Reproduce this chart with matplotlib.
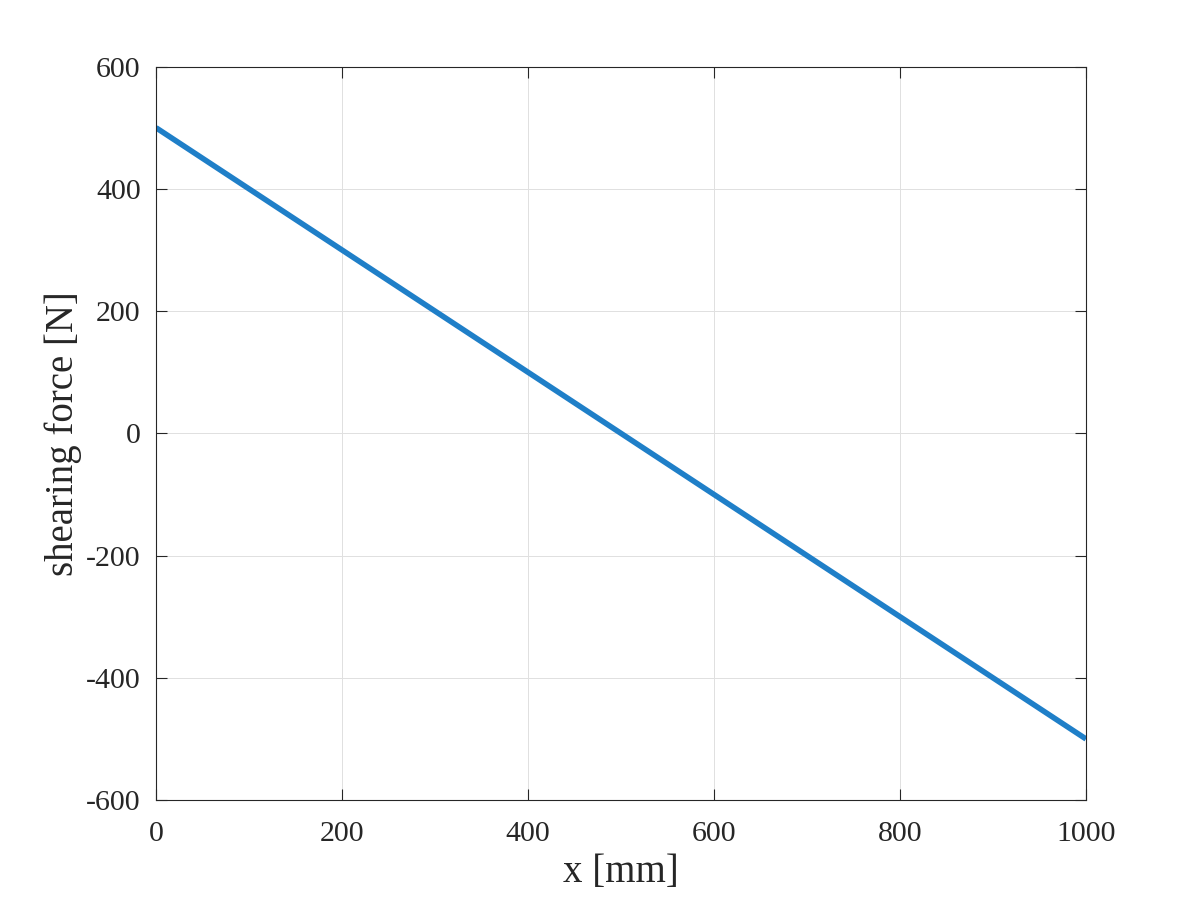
import matplotlib
matplotlib.use("Agg")
import matplotlib.pyplot as plt

x_mm = [0, 1000]
shear_N = [500, -500]
xticks = [0, 200, 400, 600, 800, 1000]
yticks = [-600, -400, -200, 0, 200, 400, 600]

plt.rcParams['font.family'] = ['Liberation Serif', 'DejaVu Serif']
fig = plt.figure(figsize=(12, 9), dpi=100)
ax = fig.add_axes([0.13, 0.111, 0.775, 0.815])
ax.plot(x_mm, shear_N, color='#1f7fc8', linewidth=4, solid_capstyle='butt')
ax.set_xlim(0, 1000)
ax.set_ylim(-600, 600)
ax.set_xticks(xticks)
ax.set_yticks(yticks)
ax.set_xticklabels([str(v) for v in xticks])
ax.set_yticklabels([str(v).replace('\u2212', '-') for v in yticks])
ax.grid(True, color='#e0e0e0', linewidth=0.7)
ax.set_axisbelow(True)
ax.tick_params(direction='in', top=True, right=True, labelsize=21.5, length=8, width=0.8, colors='#262626')
ax.tick_params(axis='x', pad=15)
ax.tick_params(axis='y', pad=11)
for s in ax.spines.values():
    s.set_color('#262626')
    s.set_linewidth(0.8)
ax.set_xlabel('x [mm]', fontsize=28, color='#262626', labelpad=5)
ax.set_ylabel('shearing force [N]', fontsize=28, color='#262626', labelpad=3)
fig.savefig('out.png', dpi=100)
